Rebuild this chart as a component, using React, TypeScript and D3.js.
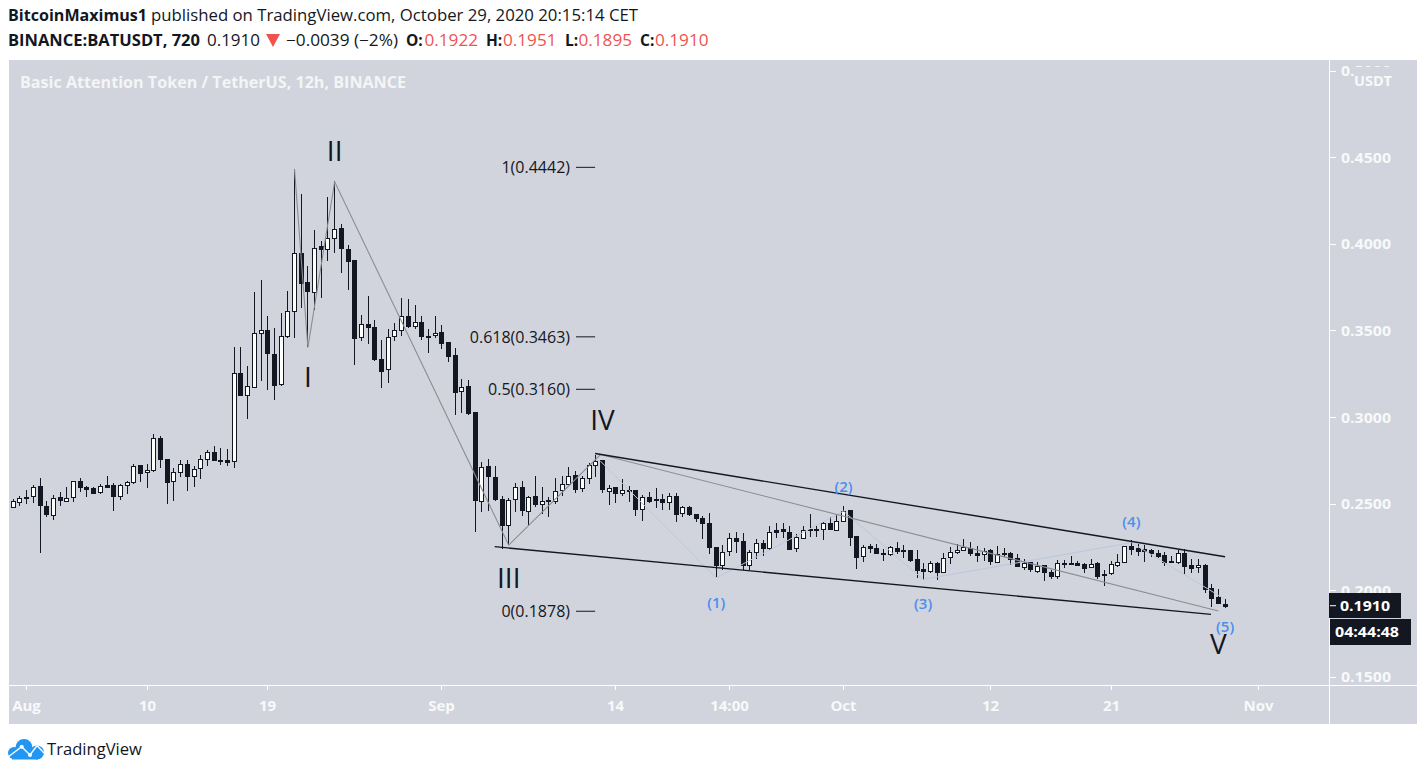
import React, { useEffect, useRef } from 'react';
import * as d3 from 'd3';

const opens = [
  .2479, .2513, .2534, .2542, .2600, .2484, .2436, .2536, .2517, .2534,
  .2628, .2594, .2588, .2563, .2605, .2605, .2540, .2604, .2623, .2723,
  .2680, .2690, .2877, .2757, .2627, .2680, .2727, .2656, .2704, .2755,
  .2796, .2752, .2752, .2744, .3252, .3123, .3171, .3483, .3500, .3363,
  .3186, .3469, .3615, .3950, .3777, .3723, .3985, .3965, .4029, .4089,
  .3969, .3906, .3458, .3535, .3517, .3335, .3273, .3464, .3498, .3581,
  .3523, .3546, .3468, .3469, .3491, .3433, .3358, .3148, .3179, .3027,
  .2517, .2715, .2652, .2527, .2379, .2523, .2594, .2455, .2542, .2500,
  .2519, .2517, .2581, .2615, .2663, .2588, .2650, .2725, .2752, .2575,
  .2594, .2561, .2577, .2577, .2469, .2538, .2527, .2525, .2506, .2542,
  .2442, .2479, .2440, .2415, .2386, .2248, .2142, .2223, .2300, .2282,
  .2142, .2217, .2271, .2242, .2348, .2352, .2334, .2242, .2304, .2352,
  .2352, .2350, .2388, .2350, .2402, .2463, .2313, .2194, .2254, .2242,
  .2217, .2205, .2242, .2232, .2230, .2180, .2121, .2109, .2155, .2102,
  .2192, .2219, .2230, .2242, .2215, .2207, .2230, .2165, .2216, .2215,
  .2185, .2133, .2162, .2113, .2146, .2104, .2081, .2156, .2156, .2158,
  .2152, .2131, .2158, .2092, .2096, .2142, .2162, .2256, .2244, .2235,
  .2233, .2215, .2204, .2169, .2162, .2215, .2146, .2133, .2148, .2014,
  .1962, .1922,
];
const highs = [
  .2527, .2542, .2579, .2607, .2646, .2513, .2550, .2565, .2594, .2628,
  .2646, .2603, .2594, .2613, .2657, .2619, .2613, .2630, .2729, .2723,
  .2729, .2902, .2888, .2757, .2704, .2752, .2752, .2719, .2780, .2809,
  .2832, .2821, .2815, .3402, .3402, .3295, .3721, .3790, .3583, .3513,
  .3600, .3727, .4435, .4290, .3875, .4079, .4014, .4269, .4363, .4112,
  .3991, .3906, .3589, .3698, .3560, .3444, .3508, .3542, .3687, .3681,
  .3646, .3581, .3508, .3581, .3531, .3433, .3396, .3219, .3214, .3027,
  .2738, .2757, .2719, .2542, .2531, .2619, .2629, .2546, .2657, .2594,
  .2536, .2648, .2657, .2709, .2686, .2657, .2734, .2781, .2752, .2607,
  .2594, .2642, .2600, .2581, .2550, .2565, .2592, .2556, .2561, .2561,
  .2488, .2486, .2440, .2427, .2446, .2248, .2258, .2331, .2334, .2331,
  .2232, .2296, .2292, .2369, .2388, .2388, .2373, .2325, .2373, .2440,
  .2373, .2396, .2421, .2440, .2484, .2465, .2313, .2261, .2265, .2267,
  .2238, .2257, .2277, .2261, .2232, .2232, .2157, .2169, .2161, .2215,
  .2248, .2265, .2296, .2280, .2257, .2242, .2238, .2257, .2242, .2223,
  .2208, .2181, .2164, .2162, .2148, .2119, .2175, .2175, .2196, .2167,
  .2154, .2181, .2162, .2117, .2167, .2208, .2256, .2287, .2267, .2258,
  .2235, .2229, .2219, .2200, .2229, .2235, .2181, .2181, .2150, .2037,
  .2004, .1951,
];
const lows = [
  .2473, .2488, .2498, .2504, .2212, .2425, .2407, .2488, .2511, .2511,
  .2569, .2540, .2557, .2557, .2588, .2459, .2523, .2555, .2613, .2627,
  .2592, .2684, .2705, .2498, .2517, .2653, .2575, .2596, .2642, .2717,
  .2748, .2725, .2717, .2706, .3123, .2990, .3165, .3210, .3157, .3100,
  .3180, .3458, .3458, .3631, .3406, .3617, .3687, .3902, .3946, .3831,
  .3733, .3300, .3439, .3423, .3325, .3167, .3196, .3440, .3469, .3514,
  .3508, .3446, .3369, .3458, .3392, .3319, .3012, .3023, .3013, .2338,
  .2454, .2459, .2517, .2238, .2263, .2454, .2427, .2373, .2479, .2440,
  .2421, .2498, .2546, .2609, .2561, .2569, .2613, .2652, .2561, .2492,
  .2504, .2546, .2511, .2431, .2402, .2504, .2473, .2465, .2465, .2396,
  .2421, .2431, .2396, .2296, .2207, .2073, .2117, .2196, .2215, .2115,
  .2115, .2180, .2196, .2229, .2300, .2300, .2230, .2223, .2296, .2305,
  .2305, .2292, .2350, .2344, .2402, .2254, .2123, .2165, .2215, .2209,
  .2169, .2200, .2209, .2184, .2161, .2071, .2059, .2100, .2059, .2098,
  .2150, .2207, .2228, .2200, .2165, .2171, .2148, .2161, .2190, .2148,
  .2133, .2119, .2104, .2100, .2050, .2065, .2062, .2129, .2148, .2142,
  .2100, .2127, .2062, .2021, .2085, .2133, .2158, .2204, .2196, .2165,
  .2189, .2185, .2142, .2156, .2152, .2094, .2098, .2100, .1985, .1902,
  .1927, .1895,
];
const closes = [
  .2513, .2534, .2536, .2594, .2488, .2436, .2534, .2517, .2534, .2628,
  .2592, .2580, .2561, .2600, .2596, .2540, .2605, .2623, .2715, .2677,
  .2692, .2877, .2754, .2627, .2680, .2727, .2656, .2698, .2755, .2796,
  .2748, .2746, .2742, .3252, .3123, .3177, .3483, .3500, .3365, .3186,
  .3465, .3615, .3950, .3775, .3723, .3979, .3965, .4031, .4083, .3971,
  .3902, .3458, .3535, .3515, .3331, .3267, .3460, .3500, .3581, .3521,
  .3546, .3464, .3464, .3483, .3429, .3354, .3146, .3171, .3021, .2517,
  .2713, .2656, .2523, .2379, .2523, .2594, .2459, .2536, .2494, .2517,
  .2511, .2575, .2615, .2661, .2584, .2646, .2725, .2748, .2584, .2590,
  .2561, .2579, .2569, .2469, .2536, .2515, .2523, .2506, .2542, .2440,
  .2479, .2438, .2419, .2384, .2246, .2142, .2219, .2300, .2281, .2142,
  .2219, .2271, .2240, .2334, .2338, .2338, .2238, .2305, .2350, .2348,
  .2348, .2386, .2354, .2402, .2459, .2309, .2194, .2248, .2244, .2211,
  .2213, .2248, .2223, .2228, .2175, .2119, .2109, .2154, .2102, .2184,
  .2219, .2230, .2248, .2211, .2204, .2225, .2165, .2209, .2212, .2183,
  .2137, .2154, .2119, .2142, .2104, .2079, .2154, .2152, .2148, .2148,
  .2131, .2150, .2083, .2085, .2150, .2162, .2254, .2240, .2229, .2225,
  .2214, .2196, .2165, .2162, .2215, .2142, .2131, .2146, .2012, .1958,
  .1929, .1910,
];

// bar numbers (1 = first candle, Jul 31), 12h bars
const timeTicks = [3, 21, 39, 65, 91, 108, 125, 147, 165, 187];
const timeLabels = ['Aug', '10', '19', 'Sep', '14', '14:00', 'Oct', '12', '21', 'Nov'];
const priceTicks = [0.5, 0.45, 0.4, 0.35, 0.3, 0.25, 0.2, 0.15];
const lastPrice = 0.191;
const countdown = '04:44:48';

const fibLevels = ['1', '0.618', '0.5', '0'];
const fibPrices = [0.4442, 0.3463, 0.316, 0.1878];
const fibEndBar = 87.9; // right end of the level lines

const waveBars = [43, 45, 49, 75, 88.7, 181];
const wavePrices = [0.4433, 0.3402, 0.4359, 0.226, 0.2783, 0.1879];
const subBars = [88.7, 106, 125, 136.9, 168, 182];
const subPrices = [0.2745, 0.207, 0.2456, 0.2062, 0.2274, 0.1947];
const upperBars = [87.9, 182];
const upperPrices = [0.2789, 0.2193];
const lowerBars = [72.9, 179.9];
const lowerPrices = [0.2251, 0.186];

const romanLabels = ['I', 'II', 'III', 'IV', 'V'];
const romanBars = [45, 49, 75, 89, 181];
const romanPrices = [0.3175, 0.4479, 0.201, 0.2927, 0.163];
const countLabels = ['(1)', '(2)', '(3)', '(4)', '(5)'];
const countBars = [106, 125, 136.9, 168, 182];
const countPrices = [0.1898, 0.2568, 0.1891, 0.2366, 0.1756];

const ink = '#131722';
const panel = '#d1d4dc';
const font = '"Open Sans", "Noto Sans", sans-serif';

const x = d3.scaleLinear().domain([1, 182]).range([13.3, 1225.1]);
const y = d3.scaleLinear().domain([0.15, 0.45]).range([676.7, 157.3]);
const px = (v: number) => Math.floor(x(v)) + 0.5;

export default function App() {
  const svgRef = useRef<SVGSVGElement>(null);

  function loadGraph(elm: SVGSVGElement) {
    const svg = d3.select(elm);
    svg.selectAll('*').remove();

    svg.append('rect').attr('x', 9).attr('y', 60).attr('width', 1408).attr('height', 664).attr('fill', panel);

    // header
    const text = (s: string, tx: number, ty: number, size: number, weight: number, fill: string, len?: number) => {
      const t = svg.append('text').text(s).attr('x', tx).attr('y', ty)
        .attr('font-family', font).attr('font-size', size).attr('font-weight', weight).attr('fill', fill);
      if (len) t.attr('textLength', len).attr('lengthAdjust', 'spacingAndGlyphs');
      return t;
    };
    text('BitcoinMaximus1', 8, 21, 15.5, 700, ink, 139);
    text('published on TradingView.com, October 29, 2020 20:15:14 CET', 151, 21, 15.5, 400, ink, 487);
    text('BINANCE:BATUSDT, 720', 8, 46, 15.5, 700, ink, 192);
    text('0.1910', 207, 46, 15.5, 400, ink, 53);
    svg.append('path').attr('d', 'M266 34H280L273 47Z').attr('fill', '#ef5350');
    text('\u22120.0039 (\u22122%)', 286, 46, 15.5, 400, ink, 112);
    const ohlcLabels = ['O:', 'H:', 'L:', 'C:'];
    const ohlcValues = ['0.1922', '0.1951', '0.1895', '0.1910'];
    const ohlcX = [406, 486, 565, 640];
    const ohlcValueX = [424.5, 503, 578.5, 655];
    ohlcLabels.forEach((l, i) => {
      text(l, ohlcX[i], 46, 15.5, 700, ink);
      text(ohlcValues[i], ohlcValueX[i], 46, 15.5, 400, '#ef5350', 53.5);
    });

    // title
    text('Basic Attention Token / TetherUS, 12h, BINANCE', 20, 88, 15.5, 700, '#f4f5f7', 386);

    // axes lines
    svg.append('line').attr('x1', 9).attr('x2', 1417).attr('y1', 685.5).attr('y2', 685.5).attr('stroke', '#fff');
    svg.append('line').attr('x1', 1329.5).attr('x2', 1329.5).attr('y1', 60).attr('y2', 724).attr('stroke', '#fff');

    // time axis
    const tg = svg.append('g');
    timeTicks.forEach((b, i) => {
      tg.append('line').attr('x1', px(b)).attr('x2', px(b)).attr('y1', 686).attr('y2', 690).attr('stroke', '#fff');
      tg.append('text').text(timeLabels[i]).attr('x', px(b)).attr('y', 711)
        .attr('text-anchor', 'middle').attr('font-family', font).attr('font-size', 15)
        .attr('font-weight', 700).attr('fill', '#f8f9fa');
    });

    // price axis
    priceTicks.forEach(p => {
      const ty = Math.round(y(p)) + 0.5;
      svg.append('line').attr('x1', 1330).attr('x2', 1336).attr('y1', ty).attr('y2', ty).attr('stroke', '#fff');
      text(p.toFixed(4), 1341, y(p) + 5.5, 15, 700, '#f8f9fa', 50);
    });
    // the USDT tag sits over the top label
    svg.append('rect').attr('x', 1354).attr('y', 67).attr('width', 38).attr('height', 22).attr('fill', panel);
    text('USDT', 1354, 86, 14.5, 700, '#f8f9fa', 38);

    // candles
    const bars = d3.range(opens.length);
    svg.append('g').selectAll('line').data(bars).join('line')
      .attr('x1', i => px(i + 1)).attr('x2', i => px(i + 1))
      .attr('y1', i => y(highs[i])).attr('y2', i => y(lows[i]))
      .attr('stroke', ink).attr('stroke-width', 1).attr('shape-rendering', 'crispEdges');
    svg.append('g').selectAll('rect').data(bars).join('rect')
      .attr('x', i => px(i + 1) - 2)
      .attr('width', 4)
      .attr('y', i => Math.round(y(Math.max(opens[i], closes[i]))) + 0.5)
      .attr('height', i => Math.max(1, Math.round(Math.abs(y(opens[i]) - y(closes[i])))))
      .attr('fill', i => (closes[i] >= opens[i] ? '#fff' : ink))
      .attr('stroke', ink).attr('stroke-width', 1).attr('shape-rendering', 'crispEdges');

    // wave drawings
    const line = (bs: number[], ps: number[], color: string, w: number) => {
      const l = d3.line<number>().x(b => x(b)).y((_, i) => y(ps[i]));
      svg.append('path').attr('d', l(bs)).attr('fill', 'none').attr('stroke', color).attr('stroke-width', w);
    };
    line(subBars, subPrices, '#bcc7de', 1);
    line(waveBars, wavePrices, '#8b8d92', 1.1);
    line(upperBars, upperPrices, ink, 1.4);
    line(lowerBars, lowerPrices, ink, 1.4);

    // fib levels
    fibLevels.forEach((l, i) => {
      text(`${l}(${fibPrices[i].toFixed(4)})`, 570, y(fibPrices[i]) + 6, 16, 400, ink).attr('text-anchor', 'end');
      svg.append('line').attr('x1', 576).attr('x2', x(fibEndBar)).attr('y1', y(fibPrices[i])).attr('y2', y(fibPrices[i]))
        .attr('stroke', ink).attr('stroke-width', 1);
    });

    // wave labels
    romanLabels.forEach((l, i) => {
      text(l, x(romanBars[i]), y(romanPrices[i]), 28, 400, ink).attr('text-anchor', 'middle');
    });
    countLabels.forEach((l, i) => {
      text(l, x(countBars[i]), y(countPrices[i]), 15, 600, '#4a8ff0').attr('text-anchor', 'middle');
    });

    // last price + countdown
    svg.append('rect').attr('x', 1329).attr('y', 593).attr('width', 72).attr('height', 25).attr('fill', ink);
    svg.append('line').attr('x1', 1330).attr('x2', 1336).attr('y1', y(lastPrice)).attr('y2', y(lastPrice)).attr('stroke', '#fff');
    text(lastPrice.toFixed(4), 1340, 611, 15, 700, '#fff', 50);
    svg.append('rect').attr('x', 1330).attr('y', 619).attr('width', 81).attr('height', 26).attr('fill', ink);
    text(countdown, 1335, 637, 15, 700, '#fff', 64);

    // logo
    const logo = svg.append('g').attr('fill', '#2196f3');
    logo.append('circle').attr('cx', 14).attr('cy', 753).attr('r', 6);
    logo.append('circle').attr('cx', 24).attr('cy', 747.5).attr('r', 8.5);
    logo.append('circle').attr('cx', 37).attr('cy', 752.5).attr('r', 7);
    logo.append('rect').attr('x', 12).attr('y', 750).attr('width', 26).attr('height', 9.5);
    svg.append('path').attr('d', 'M8 757L21.7 746.7L30 755L37 745.5L44 753').attr('fill', 'none').attr('stroke', '#fff').attr('stroke-width', 1.4);
    svg.append('circle').attr('cx', 21.7).attr('cy', 746.7).attr('r', 2).attr('fill', '#fff');
    svg.append('circle').attr('cx', 30).attr('cy', 755).attr('r', 2).attr('fill', '#fff');
    text('TradingView', 47, 755, 17, 400, ink, 95);
  }

  useEffect(() => {
    if (svgRef.current) {
      loadGraph(svgRef.current);
    }
  }, []);

  return (
    <svg
      ref={svgRef}
      width={1426}
      height={774}
      style={{ position: 'absolute', left: 0, top: 0, display: 'block', background: '#fff' }}
    />
  );
}
